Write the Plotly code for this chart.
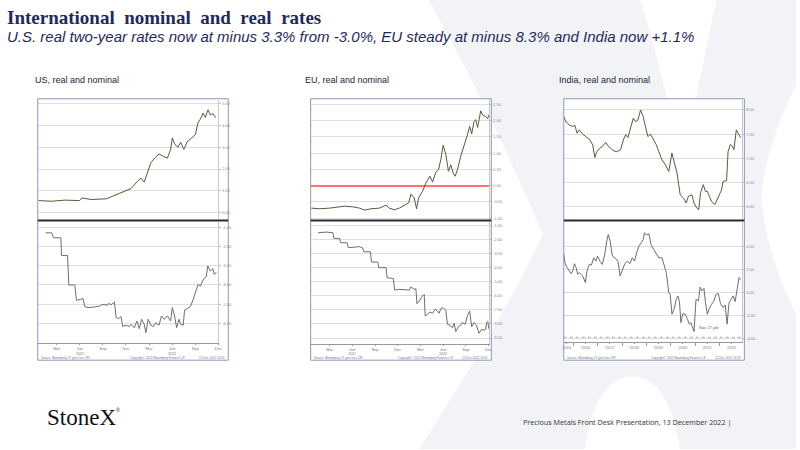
import plotly.graph_objects as go

# ---- US 2y: x = months since Jan 2021 ----
us_nom_t = [-0.36, 1.36, 3.07, 5.0, 5.3, 6.5, 8.44, 9.08, 9.94, 10.8, 11.66, 12.3, 12.94,
            13.37, 13.72, 14.23, 14.75, 15.3, 15.73, 16.38, 16.8, 17.02, 17.32, 17.75, 18.1,
            18.52, 18.95, 19.6, 20.03, 20.33, 20.67, 21.01, 21.3, 21.66, 21.96, 22.3, 22.64]
us_nom = [0.55, 0.52, 0.57, 0.55, 0.67, 0.6, 0.63, 0.72, 0.86, 0.95, 1.1, 1.36, 1.59,
          1.4, 1.74, 2.28, 2.51, 2.69, 2.6, 2.5, 2.89, 3.43, 3.15, 2.99, 3.23,
          2.9, 3.25, 3.43, 3.58, 4.11, 4.3, 4.57, 4.37, 4.72, 4.48, 4.55, 4.36]

us_real_t = [0.58, 1.36, 1.44, 1.57, 2.56, 2.64, 3.42, 3.59, 4.36, 4.58, 5.13, 5.43, 5.65,
             6.08, 6.94, 7.58, 8.01, 8.57, 8.74, 9.08, 9.51, 9.73, 10.03, 10.37, 10.58,
             11.01, 11.44, 11.66, 12.09, 12.43, 12.73, 13.03, 13.37, 13.59, 13.89, 14.23,
             14.58, 14.88, 15.3, 15.61, 15.95, 16.38, 16.81, 17.02, 17.32, 17.58, 17.88,
             18.1, 18.44, 18.61, 18.95, 19.38, 19.73, 20.03, 20.37, 20.67, 21.1, 21.44,
             21.61, 21.96, 22.3, 22.47, 22.73]
us_real = [-1.28, -1.28, -1.35, -1.54, -1.54, -2.46, -2.46, -4.0, -4.0, -4.8, -4.75, -4.71, -5.13,
           -5.18, -5.15, -5.1, -5.01, -5.06, -4.96, -5.03, -4.89, -5.7, -5.76, -5.65, -6.17,
           -6.1, -6.17, -6.05, -6.23, -5.88, -6.28, -5.79, -6.05, -6.49, -5.79, -6.1,
           -6.17, -5.97, -6.1, -5.62, -5.79, -5.62, -5.88, -5.18, -5.62, -6.23, -5.79,
           -6.05, -6.1, -5.31, -5.24, -5.13, -4.75, -4.32, -3.97, -4.06, -3.67, -3.57,
           -3.01, -3.27, -3.15, -3.45, -3.33]

# ---- EU 2y: x = months since Jan 2021 ----
eu_nom_t = [-0.41, 0.68, 2.0, 2.88, 3.97, 5.07, 5.95, 6.61, 7.48, 8.58, 9.46, 9.89, 10.55,
            11.21, 12.0, 12.44, 12.75, 13.18, 13.49, 13.75, 14.28, 14.72, 15.25, 15.6, 16.04,
            16.39, 16.69, 17.0, 17.35, 17.7, 18.01, 18.32, 18.58, 18.89, 19.32, 19.76, 20.2,
            20.51, 20.77, 21.08, 21.3, 21.56, 21.96, 22.26, 22.61, 22.88, 23.05]
eu_nom = [-0.69, -0.71, -0.69, -0.67, -0.63, -0.65, -0.69, -0.75, -0.71, -0.69, -0.6, -0.69, -0.74,
          -0.69, -0.58, -0.53, -0.26, -0.38, -0.71, -0.38, -0.17, 0.08, 0.29, 0.11, 0.42,
          0.49, 0.8, 1.24, 0.97, 0.44, 0.64, 0.39, 0.29, 0.49, 0.9, 1.21, 1.56,
          1.82, 1.59, 1.97, 2.03, 1.79, 2.3, 2.16, 2.13, 2.06, 2.18]

eu_real_t = [0.47, 1.56, 2.44, 2.57, 3.32, 3.45, 4.32, 4.46, 5.29, 5.95, 6.39, 6.52, 7.39,
             7.53, 8.36, 8.49, 9.46, 9.59, 10.42, 10.6, 11.21, 11.87, 12.53, 12.75, 13.18,
             13.4, 13.54, 13.84, 14.19, 14.5, 14.63, 14.94, 15.25, 15.6, 15.95, 16.25, 16.47,
             16.69, 17.0, 17.35, 17.57, 17.88, 18.23, 18.45, 18.67, 19.02, 19.32, 19.54, 19.9,
             20.2, 20.51, 20.77, 21.08, 21.39, 21.74, 22.09, 22.39, 22.61, 22.75, 22.92, 23.01]
eu_real = [-1.52, -1.47, -1.52, -1.92, -1.92, -2.23, -2.23, -2.58, -2.54, -2.51, -2.61, -2.87, -2.87,
           -3.6, -3.6, -4.0, -4.0, -4.71, -4.78, -5.59, -5.54, -5.59, -5.59, -5.37, -5.54,
           -5.49, -6.56, -6.37, -6.06, -5.89, -7.43, -7.31, -7.15, -7.24, -6.96, -7.08, -7.24,
           -6.91, -6.84, -7.03, -8.02, -8.09, -8.26, -7.95, -8.54, -8.19, -8.09, -7.9, -8.02,
           -7.43, -7.08, -8.19, -7.9, -8.09, -8.66, -8.38, -8.45, -8.38, -7.9, -7.83, -8.33]

# ---- India 10y: x = decimal year ----
in_nom_t = [2015.6, 2015.7, 2015.83, 2015.97, 2016.06, 2016.15, 2016.24, 2016.38, 2016.51,
            2016.65, 2016.79, 2016.88, 2016.96, 2017.06, 2017.19, 2017.33, 2017.4, 2017.51,
            2017.64, 2017.78, 2017.94, 2018.05, 2018.15, 2018.24, 2018.35, 2018.46, 2018.55,
            2018.65, 2018.76, 2018.87, 2018.96, 2019.06, 2019.17, 2019.3, 2019.41, 2019.51,
            2019.64, 2019.78, 2019.92, 2020.05, 2020.15, 2020.26, 2020.39, 2020.53, 2020.64,
            2020.73, 2020.87, 2020.96, 2021.07, 2021.15, 2021.23, 2021.34, 2021.43, 2021.51,
            2021.59, 2021.68, 2021.82, 2021.96, 2022.09, 2022.16, 2022.3, 2022.36, 2022.46,
            2022.54, 2022.6, 2022.7, 2022.77, 2022.87]
in_nom = [7.86, 7.75, 7.69, 7.66, 7.68, 7.52, 7.59, 7.5, 7.45,
          7.4, 7.28, 7.02, 7.14, 7.2, 7.25, 7.33, 7.27, 7.22,
          7.16, 7.14, 7.18, 7.38, 7.49, 7.43, 7.62, 7.83, 7.76,
          7.79, 8.0, 7.86, 7.66, 7.45, 7.5, 7.38, 7.28, 7.14,
          6.97, 6.87, 6.73, 7.11, 6.9, 6.7, 6.25, 6.18, 6.08,
          6.22, 6.25, 6.08, 5.98, 5.94, 6.29, 6.46, 6.32, 6.32,
          6.22, 6.11, 6.05, 6.22, 6.35, 6.53, 6.54, 7.14, 7.29,
          7.25, 7.18, 7.59, 7.52, 7.43]

in_real_t = [2015.6, 2015.66, 2015.74, 2015.83, 2015.9, 2015.97, 2016.04, 2016.11, 2016.17,
             2016.24, 2016.38, 2016.49, 2016.55, 2016.65, 2016.74, 2016.83, 2016.92, 2016.99,
             2017.1, 2017.19, 2017.29, 2017.37, 2017.43, 2017.51, 2017.6, 2017.7, 2017.83,
             2017.92, 2018.01, 2018.11, 2018.21, 2018.32, 2018.42, 2018.51, 2018.62, 2018.69,
             2018.79, 2018.87, 2018.92, 2019.0, 2019.1, 2019.19, 2019.3, 2019.41, 2019.51,
             2019.64, 2019.71, 2019.82, 2019.92, 2019.98, 2020.05, 2020.15, 2020.23, 2020.3,
             2020.36, 2020.42, 2020.5, 2020.6, 2020.69, 2020.77, 2020.83, 2020.91, 2020.96,
             2021.04, 2021.14, 2021.21, 2021.29, 2021.37, 2021.43, 2021.51, 2021.59, 2021.68,
             2021.78, 2021.86, 2021.96, 2022.05, 2022.16, 2022.24, 2022.32, 2022.4, 2022.5,
             2022.57, 2022.65, 2022.73, 2022.81, 2022.87]
in_real = [3.36, 2.49, 2.15, 1.8, 1.62, 1.86, 2.49, 2.15, 1.57,
           1.71, 1.42, 0.84, 1.8, 2.43, 2.38, 3.01, 2.72, 3.16,
           2.67, 2.43, 3.36, 4.46, 5.04, 4.46, 3.16, 3.01, 2.72,
           1.42, 2.0, 2.49, 2.72, 2.49, 3.01, 2.72, 3.59, 4.03,
           4.32, 4.61, 5.19, 4.99, 5.1, 4.17, 3.74, 3.3, 3.01,
           3.01, 2.43, 1.71, -0.03, -0.17, -1.91, -1.39, -0.61, -0.32,
           -0.81, -2.64, -1.85, -1.91, -2.35, -2.78, -2.64, -3.07, -3.42,
           -0.61, -0.75, 0.46, 0.12, 0.35, -0.9, -1.91, -1.39, -1.04,
           -0.75, -0.17, -0.12, -0.99, -1.33, -1.1, -2.78, -0.9, -0.61,
           -0.32, -0.81, 0.41, 1.28, 1.1]

# tick labels
qtr_ticks = [2, 5, 8, 11, 14, 17, 20, 23]
qtr_labels = ["Mar", "Jun", "Sep", "Dec", "Mar", "Jun", "Sep", "Dec"]
qtr_year_pos = [5, 17]
qtr_years = ["2021", "2022"]
year_ticks = [2015.72, 2016.5, 2017.5, 2018.5, 2019.5, 2020.5, 2021.5, 2022.5]
year_labels = ["2015", "2016", "2017", "2018", "2019", "2020", "2021", "2022"]

us_nom_grid = [0, 1, 2, 3, 4, 5]
us_real_grid = [-1, -2, -3, -4, -5, -6]
eu_nom_grid = [-1.0, -0.5, 0.0, 0.5, 1.0, 1.5, 2.0, 2.5]
eu_real_grid = [-1, -2, -3, -4, -5, -6, -7, -8, -9]
in_nom_grid = [6.0, 6.5, 7.0, 7.5, 8.0]
in_real_grid = [-4, -2, 0, 2, 4]

W, H = 800, 450
NAVY = "#1f2a5c"
NOM_COLOR = "#4f5f3a"
REAL_COLOR = "#6e6e6e"


def px(x):
    return x / W


def py(y):
    return 1 - y / H


fig = go.Figure()
axes = {}


def add_panel(n, xs, ys, color, left, right, top, bottom, xr, yr, grid,
              xticks=None, xlabels=None, red_zero=False, minor=None):
    xa = "x" if n == 1 else f"x{n}"
    ya = "y" if n == 1 else f"y{n}"
    fig.add_trace(go.Scatter(x=xs, y=ys, mode="lines", line=dict(color=color, width=1),
                             xaxis=xa, yaxis=ya, hoverinfo="skip", showlegend=False))
    xaxis = dict(domain=[px(left), px(right)], range=xr, anchor=ya, showgrid=False,
                 zeroline=False)
    if xticks is None:
        xaxis.update(showticklabels=False, ticks="", showline=False)
    else:
        xaxis.update(tickvals=xticks, ticktext=xlabels, ticks="outside", ticklen=1,
                     tickcolor="#999", tickfont=dict(size=4, color="#777", family="Liberation Sans"),
                     showline=True, linecolor="#999", linewidth=1)
        if minor:
            xaxis["minor"] = minor
    yaxis = dict(domain=[py(bottom), py(top)], range=yr, anchor=xa, side="right",
                 tickvals=grid, ticktext=[f"{v:.2f}" for v in grid],
                 tickfont=dict(size=4, color="#888", family="Liberation Sans"),
                 ticks="outside", ticklen=2, tickcolor="#bbb",
                 showgrid=True, gridcolor="#dedede", gridwidth=1,
                 showline=True, linecolor="#c8c8c8", linewidth=1,
                 zeroline=red_zero, zerolinecolor="#ff7373", zerolinewidth=1.5)
    axes["xaxis" if n == 1 else f"xaxis{n}"] = xaxis
    axes["yaxis" if n == 1 else f"yaxis{n}"] = yaxis


# US
add_panel(1, us_nom_t, us_nom, NOM_COLOR, 36, 218, 100, 220, [-0.45, 23.0], [-0.32, 5.18], us_nom_grid)
add_panel(2, us_real_t, us_real, REAL_COLOR, 36, 218, 222, 344, [-0.45, 23.0], [-7.04, -0.69],
          us_real_grid, qtr_ticks, qtr_labels)
# EU
add_panel(3, eu_nom_t, eu_nom, NOM_COLOR, 311, 491, 100, 220, [-0.5, 23.1], [-1.04, 2.64],
          eu_nom_grid, red_zero=True)
add_panel(4, eu_real_t, eu_real, REAL_COLOR, 311, 491, 222, 345, [-0.5, 23.1], [-9.44, -0.72],
          eu_real_grid, qtr_ticks, qtr_labels)
# India
add_panel(5, in_nom_t, in_nom, NOM_COLOR, 566, 746, 100, 220, [2015.6, 2022.95], [5.74, 8.21], in_nom_grid)
add_panel(6, in_real_t, in_real, REAL_COLOR, 566, 746, 222, 343, [2015.6, 2022.95], [-4.35, 6.17],
          in_real_grid, year_ticks, year_labels,
          minor=dict(tickvals=[2016, 2017, 2018, 2019, 2020, 2021, 2022], ticks="outside",
                     ticklen=3, tickcolor="#999"))

fig.update_layout(**axes)

# background watermark (large pale X)
pts = [("M", 430, 0), ("L", 643, 0), ("Q", 672, 90, 684, 180), ("Q", 700, 90, 720, 0),
       ("L", 800, 0), ("L", 800, 85), ("Q", 768, 150, 765, 200), ("Q", 772, 260, 800, 315),
       ("L", 800, 450), ("L", 683, 450), ("Q", 672, 378, 635, 377), ("Q", 598, 378, 587, 450),
       ("L", 420, 450), ("Q", 505, 320, 545, 235), ("Q", 492, 110, 430, 0)]
path = ""
for p in pts:
    coords = p[1:]
    path += p[0] + " " + " ".join(
        f"{px(coords[i]):.4f},{py(coords[i + 1]):.4f}" for i in range(0, len(coords), 2)) + " "
path += "Z"

shapes = [dict(type="path", path=path, xref="paper", yref="paper", fillcolor="#f2f3f6",
               line=dict(width=0), layer="below")]

boxes = [(36, 228), (311, 493), (566, 748)]
for l, r in boxes:
    shapes.append(dict(type="rect", xref="paper", yref="paper", x0=px(l), x1=px(r), y0=py(361), y1=py(99),
                       fillcolor="white", line=dict(width=0), layer="below"))
for l, r in boxes:
    shapes.append(dict(type="rect", xref="paper", yref="paper", x0=px(l), x1=px(r), y0=py(361), y1=py(99),
                       fillcolor="rgba(0,0,0,0)", line=dict(color="#8e97b8", width=1), layer="above"))
    shapes.append(dict(type="line", xref="paper", yref="paper", x0=px(l), x1=px(r), y0=py(221), y1=py(221),
                       line=dict(color="#2b2b2b", width=2), layer="above"))
# dotted line above India x axis
shapes.append(dict(type="line", xref="paper", yref="paper", x0=px(566), x1=px(746), y0=py(338), y1=py(338),
                   line=dict(color="#aaa", width=1, dash="dot"), layer="above"))


def note(text, x, y, size, color, family="Liberation Sans", xanchor="left"):
    return dict(text=text, x=px(x), y=py(y), xref="paper", yref="paper", xanchor=xanchor,
                yanchor="middle", showarrow=False, font=dict(family=family, size=size, color=color))


annotations = [
    note("<b>International  nominal  and  real  rates</b>", 3, 18, 19, NAVY, "Liberation Serif"),
    note("<i>U.S. real two-year rates now at minus 3.3% from -3.0%, EU steady at minus 8.3% and India now +1.1%</i>",
         3, 37, 15, NAVY),
    note("US, real and nominal", 31, 80, 9, "#1c1c3c"),
    note("EU, real and nominal", 303, 80, 9, "#1c1c3c"),
    note("India, real and nominal", 559, 80, 9, "#1c1c3c"),
    note("StoneX", 43, 418, 23, "#111", "Liberation Serif"),
    note("®", 113, 411, 5, "#111"),
    note("Precious Metals Front Desk Presentation, 13 December 2022 |", 737, 423, 7.2, "#333",
         "Open Sans", "right"),
    note("Nov 27 yld", 712, 328, 4, "#4a6aa0", xanchor="center"),
]
# year labels under the quarterly ticks
for xa in ["x2", "x4"]:
    for pos, yr_txt in zip(qtr_year_pos, qtr_years):
        annotations.append(dict(text=yr_txt, x=pos, xref=xa, y=py(354.3), yref="paper",
                                xanchor="center", yanchor="middle", showarrow=False, borderpad=0,
                                font=dict(family="Liberation Sans", size=3.6, color="#777")))
for l, r in boxes:
    annotations += [
        note("Source: Bloomberg 2Y govt less CPI", l + 1, 358.8, 3, "#777"),
        note("Copyright© 2022 Bloomberg Finance L.P.", (l + r) / 2 + 25, 358.8, 3, "#777", xanchor="center"),
        note("12-Dec-2022 14:32", r - 1, 358.8, 3, "#777", xanchor="right"),
    ]

fig.update_layout(width=W, height=H, margin=dict(l=0, r=0, t=0, b=0),
                  paper_bgcolor="white", plot_bgcolor="white",
                  shapes=shapes, annotations=annotations, showlegend=False)

# the page body has a default 8px margin; remove it so the figure sits at the window corner
fig.write_html("out.html", config={"displayModeBar": False},
               post_script="document.body.style.margin='0';")
